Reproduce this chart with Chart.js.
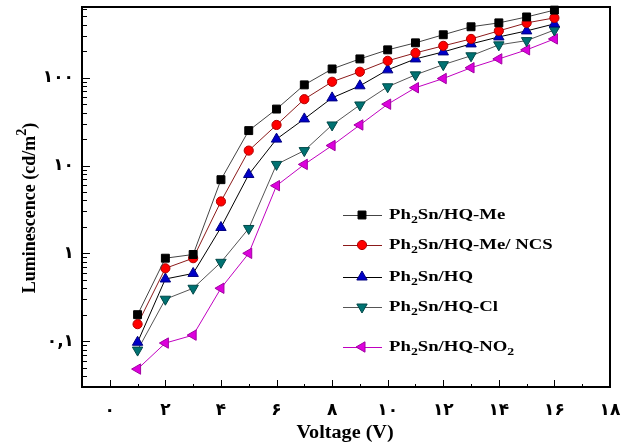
<!DOCTYPE html>
<html>
<head>
<meta charset="utf-8">
<script src="https://cdn.jsdelivr.net/npm/chart.js@4.4.0/dist/chart.umd.min.js"></script>
<style>
  html, body { margin: 0; padding: 0; background: #fff; }
</style>
</head>
<body>
<canvas id="lumChart" width="633" height="445"></canvas>
<script>
// voltage (V)
var voltage = [1, 2, 3, 4, 5, 6, 7, 8, 9, 10, 11, 12, 13, 14, 15, 16];
// luminescence (cd/m2) per compound
var meValues  = [0.2, 0.88, 0.97, 6.9, 25, 44, 83, 126, 164, 208, 250, 309, 381, 422, 493, 590];
var ncsValues = [0.156, 0.675, 0.88, 3.9, 14.8, 29, 57, 90, 117, 156, 192, 231, 277, 342, 422, 481];
var hqValues  = [0.097, 0.51, 0.59, 1.97, 7.9, 20, 34, 59, 81, 123, 164, 197, 243, 292, 342, 411];
var clValues  = [0.079, 0.30, 0.40, 0.79, 1.92, 10.3, 14.8, 29, 49, 79, 108, 141, 178, 237, 265, 350];
var no2Values = [0.048, 0.095, 0.117, 0.40, 1.0, 5.9, 10.3, 16.9, 29, 50, 77, 98, 130, 164, 208, 277];

var seriesNames = ['Ph2Sn/HQ-Me', 'Ph2Sn/HQ-Me/ NCS', 'Ph2Sn/HQ', 'Ph2Sn/HQ-Cl', 'Ph2Sn/HQ-NO2'];

// axis ticks (Persian / Arabic-Indic digits)
var xTickValues = [0, 2, 4, 6, 8, 10, 12, 14, 16, 18];
var xTickLabels = ['\u0660', '\u0662', '\u06F4', '\u06F6', '\u0668', '\u0661\u0660', '\u0661\u0662', '\u0661\u06F4', '\u0661\u06F6', '\u0661\u0668'];
var yTickValues = [0.1, 1, 10, 100];
var yTickLabels = ['\u0660,\u0661', '\u0661', '\u0661\u0660', '\u0661\u0660\u0660'];

function pointsOf(values) {
    return voltage.map(function(v, i) { return {x: v, y: values[i]}; });
}

var styles = [
    {line: '#444444', fill: '#000000', border: '#000000', shape: 'rect', radius: 5.6, rot: 0},
    {line: '#8b1a1a', fill: '#ff0000', border: '#b00000', shape: 'circle', radius: 4.6, rot: 0},
    {line: '#000000', fill: '#0000c8', border: '#000080', shape: 'triangle', radius: 6, rot: 0},
    {line: '#555555', fill: '#007272', border: '#004848', shape: 'triangle', radius: 6, rot: 180},
    {line: '#c000c0', fill: '#dd00dd', border: '#a000a0', shape: 'triangle', radius: 6, rot: 270}
];
var allValues = [meValues, ncsValues, hqValues, clValues, no2Values];

var datasets = allValues.map(function(vals, i) {
    var s = styles[i];
    return {
        label: seriesNames[i],
        data: pointsOf(vals),
        showLine: true,
        borderColor: s.line,
        borderWidth: 1,
        pointStyle: s.shape,
        pointRadius: s.radius,
        pointRotation: s.rot,
        pointBackgroundColor: s.fill,
        pointBorderColor: s.border,
        pointBorderWidth: 1,
        clip: false
    };
});

// legend rows inside the plot
var legendRows = [215, 245, 277, 307, 347];

function drawSubText(ctx, text, x, y) {
    // digits are drawn as subscripts, text a bit wider like the source
    ctx.save();
    ctx.translate(x, y);
    ctx.scale(1.25, 1);
    var cx = 0;
    text.split(/(\d)/).forEach(function(p) {
        if (!p) return;
        if (/^\d$/.test(p)) {
            ctx.font = 'bold 11px "Liberation Serif"';
            ctx.fillText(p, cx, 5);
        } else {
            ctx.font = 'bold 15px "Liberation Serif"';
            ctx.fillText(p, cx, 0);
        }
        cx += ctx.measureText(p).width;
    });
    ctx.restore();
}

var decorPlugin = {
    id: 'decor',
    afterDraw: function(chart) {
        var ctx = chart.ctx;
        var a = chart.chartArea;
        var xs = chart.scales.x;
        var ys = chart.scales.y;
        ctx.save();
        ctx.strokeStyle = '#000';
        ctx.lineWidth = 1;
        ctx.beginPath();
        // x ticks, pointing inward
        for (var v = 0; v <= 18; v++) {
            var px = Math.round(xs.getPixelForValue(v)) + 0.5;
            var len = (v % 2 === 0) ? 7 : 3;
            ctx.moveTo(px, a.bottom);
            ctx.lineTo(px, a.bottom - len);
        }
        // y ticks on the log scale
        [0.01, 0.1, 1, 10, 100].forEach(function(dec) {
            for (var k = 1; k <= 9; k++) {
                var val = dec * k;
                if (val < ys.min || val > ys.max) continue;
                var py = Math.round(ys.getPixelForValue(val)) + 0.5;
                var l = (k === 1) ? 8 : 5;
                ctx.moveTo(a.left, py);
                ctx.lineTo(a.left + l, py);
            }
        });
        ctx.stroke();
        ctx.lineWidth = 2;
        ctx.strokeRect(a.left, a.top, a.right - a.left, a.bottom - a.top);

        // axis titles
        ctx.fillStyle = '#000';
        ctx.textBaseline = 'middle';
        ctx.textAlign = 'left';
        ctx.save();
        ctx.translate(345, 433);
        ctx.scale(1.12, 1);
        ctx.font = 'bold 18px "Liberation Serif"';
        ctx.textAlign = 'center';
        ctx.fillText('Voltage (V)', 0, 0);
        ctx.restore();

        ctx.save();
        ctx.translate(30, 208);
        ctx.rotate(-Math.PI / 2);
        ctx.font = 'bold 18px "Liberation Serif"';
        var w1 = ctx.measureText('Luminescence (cd/m').width;
        var w3 = ctx.measureText(')').width;
        ctx.font = 'bold 14px "Liberation Serif"';
        var w2 = ctx.measureText('2').width;
        var sx = -(w1 + w2 + w3) / 2;
        ctx.font = 'bold 18px "Liberation Serif"';
        ctx.fillText('Luminescence (cd/m', sx, 0);
        ctx.font = 'bold 14px "Liberation Serif"';
        ctx.fillText('2', sx + w1, -8);
        ctx.font = 'bold 18px "Liberation Serif"';
        ctx.fillText(')', sx + w1 + w2, 0);
        ctx.restore();

        // legend
        legendRows.forEach(function(y, i) {
            var s = styles[i];
            ctx.lineWidth = 1;
            ctx.strokeStyle = s.line;
            ctx.beginPath();
            ctx.moveTo(343, y + 0.5);
            ctx.lineTo(382, y + 0.5);
            ctx.stroke();
            ctx.fillStyle = s.fill;
            ctx.strokeStyle = s.border;
            Chart.helpers.drawPoint(ctx, {pointStyle: s.shape, radius: s.radius, rotation: s.rot, borderWidth: 1}, 362, y);
            ctx.fillStyle = '#000';
            drawSubText(ctx, seriesNames[i], 389, y);
        });
        ctx.restore();
    }
};

new Chart(document.getElementById('lumChart').getContext('2d'), {
    type: 'line',
    data: {datasets: datasets},
    plugins: [decorPlugin],
    options: {
        responsive: false,
        animation: false,
        devicePixelRatio: 1,
        layout: {padding: {left: 0, right: 23, top: 5, bottom: 0}},
        plugins: {legend: {display: false}, tooltip: {enabled: false}},
        scales: {
            x: {
                type: 'linear',
                min: -1,
                max: 18,
                grid: {display: false},
                border: {display: false},
                afterBuildTicks: function(s) {
                    s.ticks = xTickValues.map(function(v) { return {value: v}; });
                },
                afterFit: function(s) {
                    s.height = 58;
                    s.paddingLeft = 0;
                    s.paddingRight = 0;
                },
                ticks: {
                    autoSkip: false,
                    maxRotation: 0,
                    padding: 5,
                    color: '#000',
                    font: {family: '"DejaVu Sans"', size: 17, weight: 'bold'},
                    callback: function(v) { return xTickLabels[xTickValues.indexOf(v)]; }
                },
                title: {display: false}
            },
            y: {
                type: 'logarithmic',
                min: 0.03,
                max: 640,
                grid: {display: false},
                border: {display: false},
                afterBuildTicks: function(s) {
                    s.ticks = yTickValues.map(function(v) { return {value: v}; });
                },
                afterFit: function(s) {
                    s.width = 82;
                    s.paddingTop = 0;
                    s.paddingBottom = 0;
                },
                ticks: {
                    autoSkip: false,
                    padding: 0,
                    color: '#000',
                    font: {family: '"DejaVu Sans"', size: 17, weight: 'bold'},
                    callback: function(v) { return yTickLabels[yTickValues.indexOf(v)]; }
                },
                title: {display: false}
            }
        }
    }
});
</script>
</body>
</html>
